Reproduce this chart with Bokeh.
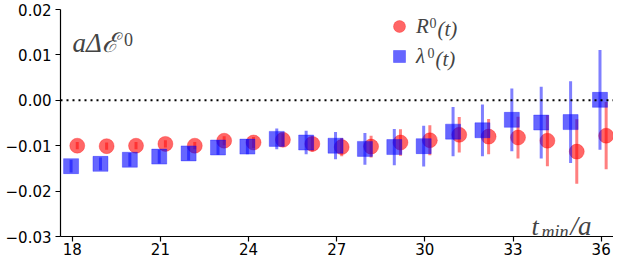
from bokeh.plotting import figure
from bokeh.models import (Range1d, FixedTicker, Span, Label, Legend, LegendItem,
                          ColumnDataSource)
from bokeh.embed import file_html
from bokeh.resources import INLINE

# ---- data ----
t_min = [18, 19, 20, 21, 22, 23, 24, 25, 26, 27, 28, 29, 30, 31, 32, 33, 34, 35, 36]
r0_val = [-0.0100, -0.0101, -0.0100, -0.0096, -0.0100, -0.0089, -0.0093, -0.0087, -0.0096,
          -0.0103, -0.0102, -0.0093, -0.0088, -0.0076, -0.0080, -0.0082, -0.0089, -0.0113,
          -0.0078]
r0_err = [0.0008, 0.0008, 0.0008, 0.0008, 0.0008, 0.0010, 0.0012, 0.0014, 0.0017,
          0.0020, 0.0024, 0.0029, 0.0033, 0.0039, 0.0039, 0.0046, 0.0056, 0.0071, 0.0074]
lam_val = [-0.0145, -0.0140, -0.0131, -0.0124, -0.0117, -0.0104, -0.0102, -0.0085, -0.0093,
           -0.0100, -0.0107, -0.0103, -0.0101, -0.0069, -0.0066, -0.0043, -0.0049, -0.0048,
           0.0001]
lam_err = [0.0014, 0.0014, 0.0015, 0.0015, 0.0015, 0.0016, 0.0017, 0.0023, 0.0026,
           0.0030, 0.0035, 0.0040, 0.0045, 0.0054, 0.0057, 0.0069, 0.0079, 0.0090, 0.0110]
x_ticks = [18, 21, 24, 27, 30, 33, 36]
y_ticks = [-0.03, -0.02, -0.01, 0.0, 0.01, 0.02]
y_tick_labels = ["\u22120.03", "\u22120.02", "\u22120.01", "0.00", "0.01", "0.02"]

RED_SHIFT = 0.17
BLUE_SHIFT = -0.04

red_src = ColumnDataSource(dict(
    x=[t + RED_SHIFT for t in t_min], y=r0_val,
    lo=[v - e for v, e in zip(r0_val, r0_err)], hi=[v + e for v, e in zip(r0_val, r0_err)]))
blue_src = ColumnDataSource(dict(
    x=[t + BLUE_SHIFT for t in t_min], y=lam_val,
    lo=[v - e for v, e in zip(lam_val, lam_err)], hi=[v + e for v, e in zip(lam_val, lam_err)]))

p = figure(width=613, height=258, output_backend="svg", toolbar_location=None,
           x_range=Range1d(17.6, 36.42), y_range=Range1d(-0.03, 0.02),
           min_border_left=60, min_border_right=0, min_border_top=9, min_border_bottom=22)
p.outline_line_color = None
p.xgrid.visible = False
p.ygrid.visible = False
p.background_fill_color = "white"
p.border_fill_color = "white"

for ax in (p.xaxis[0], p.yaxis[0]):
    ax.major_label_text_font = "DejaVu Sans"
    ax.major_label_text_font_size = "15px"
    ax.major_label_text_color = "black"
    ax.axis_line_color = "black"
    ax.axis_line_width = 1.2
    ax.major_tick_line_color = "black"
    ax.major_tick_line_width = 1.2
    ax.major_tick_out = 5
    ax.major_tick_in = 0
    ax.minor_tick_line_color = None
p.xaxis.major_label_standoff = 1
p.yaxis.major_label_standoff = 4

p.xaxis.ticker = FixedTicker(ticks=x_ticks)
p.yaxis.ticker = FixedTicker(ticks=y_ticks)
p.yaxis.major_label_overrides = {v: s for v, s in zip(y_ticks, y_tick_labels)}

p.add_layout(Span(location=0, dimension="width", line_color="black",
                  line_width=2, line_dash="2 4"))

# red series
p.segment(x0="x", y0="lo", x1="x", y1="hi", source=red_src,
          line_color="red", line_alpha=0.5, line_width=3)
r_red = p.scatter("x", "y", source=red_src, marker="circle", size=15,
                  fill_color="red", fill_alpha=0.6, line_color="red", line_alpha=0.3)
# blue series
p.segment(x0="x", y0="lo", x1="x", y1="hi", source=blue_src,
          line_color="blue", line_alpha=0.5, line_width=3)
r_blue = p.scatter("x", "y", source=blue_src, marker="square", size=15,
                   fill_color="blue", fill_alpha=0.6, line_color="blue", line_alpha=0.3)

serif = "Liberation Serif"
legend = Legend(items=[LegendItem(label="R", renderers=[r_red]),
                       LegendItem(label="\u03bb", renderers=[r_blue])],
                location=(324, 165), padding=0, margin=0, spacing=0,
                glyph_width=30, glyph_height=30, label_height=30, label_standoff=2,
                label_text_font=serif, label_text_font_style="italic",
                label_text_font_size="21px", background_fill_alpha=0,
                border_line_color=None)
p.add_layout(legend)

# legend superscripts and arguments
for xs, ys, txt, size, style in [
        (30.16, 0.01711, "0", "14px", "normal"),
        (30.43, 0.01578, "(t)", "21px", "italic"),
        (30.09, 0.01044, "0", "14px", "normal"),
        (30.36, 0.00911, "(t)", "21px", "italic")]:
    p.add_layout(Label(x=xs, y=ys, text=txt, text_font=serif, text_font_style=style,
                       text_font_size=size, text_baseline="alphabetic"))

# panel label a Delta E^0
p.add_layout(Label(x=18.01, y=0.01267, text="a\u0394\u2130", text_font=serif,
                   text_font_style="italic", text_font_size="27px",
                   text_baseline="alphabetic"))
p.add_layout(Label(x=19.76, y=0.01344, text="0", text_font=serif,
                   text_font_size="18px", text_baseline="alphabetic"))

# axis title t_min / a
p.add_layout(Label(x=33.63, y=-0.02778, text="t", text_font=serif,
                   text_font_style="italic", text_font_size="26px",
                   text_baseline="alphabetic"))
p.add_layout(Label(x=33.97, y=-0.02911, text="min", text_font=serif,
                   text_font_style="italic", text_font_size="18px",
                   text_baseline="alphabetic"))
p.add_layout(Label(x=34.96, y=-0.02778, text="/a", text_font=serif,
                   text_font_style="italic", text_font_size="27px",
                   text_baseline="alphabetic"))

open("out.html", "w").write(file_html(p, INLINE))
